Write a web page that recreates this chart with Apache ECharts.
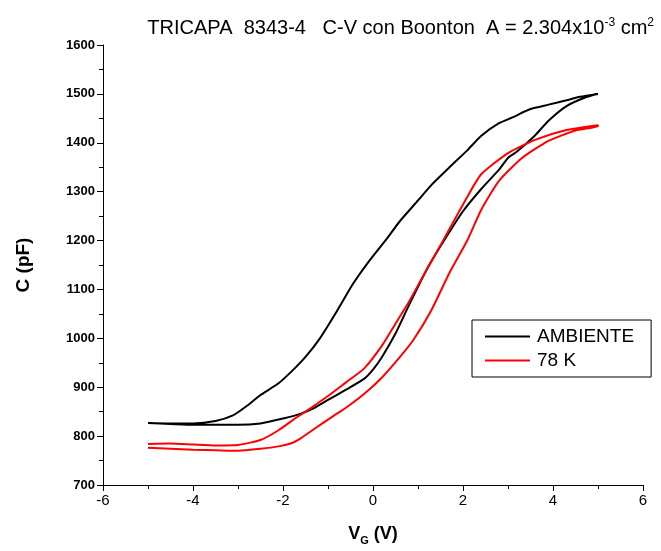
<!DOCTYPE html>
<html>
<head>
<meta charset="utf-8">
<script src="https://cdn.jsdelivr.net/npm/echarts@6/dist/echarts.min.js"></script>
<style>
  html, body { margin: 0; padding: 0; background: #fff; }
  #chart { width: 661px; height: 551px; }
</style>
</head>
<body>
<div id="chart"></div>
<script>
// C-V loops, [V_G (V), C (pF)]
const ambienteUp = [
  [-5, 827], [-4.5, 825], [-4, 823], [-3.5, 823], [-3, 823], [-2.5, 826], [-2, 836],
  [-1.6, 846], [-1.3, 858], [-1, 874], [-0.6, 895], [-0.2, 917], [0, 936], [0.2, 962],
  [0.5, 1010], [0.8, 1068], [1.2, 1142], [1.6, 1203], [2, 1260], [2.4, 1305], [2.8, 1345],
  [3, 1369], [3.2, 1382], [3.6, 1415], [3.9, 1445], [4.3, 1475], [4.7, 1492], [5, 1500]
];
const ambienteDown = [
  [5, 1500], [4.6, 1494], [4.3, 1487], [3.9, 1478], [3.5, 1469], [3.1, 1452], [2.8, 1440],
  [2.4, 1414], [2.1, 1385], [1.7, 1350], [1.3, 1314], [1, 1282], [0.6, 1240], [0.3, 1203],
  [-0.07, 1160], [-0.44, 1112], [-0.8, 1056], [-1.18, 1000], [-1.5, 962], [-1.78, 935],
  [-2.1, 908], [-2.5, 884], [-2.8, 862], [-3.1, 843], [-3.5, 831], [-4, 826], [-4.5, 826], [-5, 827]
];
const k78Up = [
  [-5, 776], [-4.5, 774], [-4, 772], [-3.5, 771], [-3, 770], [-2.5, 774], [-2.1, 779],
  [-1.8, 786], [-1.6, 796], [-1.3, 815], [-0.9, 840], [-0.6, 858], [-0.2, 886], [0.2, 920],
  [0.6, 962], [0.9, 997], [1.3, 1058], [1.7, 1134], [2.1, 1201], [2.4, 1262], [2.8, 1322],
  [3.3, 1368], [3.9, 1404], [4.5, 1425], [5, 1434]
];
const k78Down = [
  [5, 1436], [4.3, 1426], [3.6, 1406], [3, 1379], [2.4, 1335], [2.1, 1290], [1.6, 1207],
  [1.1, 1125], [0.8, 1075], [0.5, 1030], [0.2, 985], [-0.2, 938], [-0.6, 910], [-1, 882],
  [-1.5, 850], [-1.7, 838], [-2.1, 812], [-2.5, 792], [-3, 782], [-3.5, 781], [-4, 783],
  [-4.5, 785], [-5, 784]
];
const seriesNames = ['AMBIENTE', '78 K'];

const font = 'Liberation Sans, Arial, sans-serif';
const chart = echarts.init(document.getElementById('chart'));

chart.setOption({
  animation: false,
  title: {
    text: '{t|TRICAPA  8343-4   C-V con Boonton  A = 2.304x10}{sup|-3}{t| cm}{sup|2}',
    right: 2,
    top: 12,
    textStyle: {
      rich: {
        t: { fontFamily: font, fontSize: 20, fontWeight: 'normal', color: '#000' },
        sup: { fontFamily: font, fontSize: 12, fontWeight: 'normal', color: '#000', verticalAlign: 'top', padding: [0, 0, 10, 0] }
      }
    }
  },
  legend: {
    orient: 'vertical',
    left: 472,
    top: 320,
    data: seriesNames.map(function (n) { return { name: n, icon: 'rect' }; }),
    borderColor: '#000',
    borderWidth: 1,
    borderRadius: 0,
    padding: [7, 17, 7, 13],
    itemWidth: 45,
    itemHeight: 2,
    itemGap: 5,
    textStyle: { fontFamily: font, fontSize: 19, color: '#000', padding: [0, 0, 0, 2] }
  },
  grid: { left: 103, right: 18, top: 45, bottom: 66 },
  xAxis: {
    type: 'value',
    min: -6,
    max: 6,
    interval: 2,
    name: '{v|V}{s|G}{v| (V)}',
    nameLocation: 'middle',
    nameGap: 38,
    nameTextStyle: {
      rich: {
        v: { fontFamily: font, fontSize: 18, fontWeight: 'bold', color: '#000' },
        s: { fontFamily: font, fontSize: 11, fontWeight: 'bold', color: '#000', verticalAlign: 'bottom', padding: [12, 0, 0, 0] }
      }
    },
    axisLine: { onZero: false, lineStyle: { color: '#000', width: 1 } },
    axisTick: { length: 6, lineStyle: { color: '#000' } },
    minorTick: { show: true, splitNumber: 2, length: 4, lineStyle: { color: '#000' } },
    splitLine: { show: false },
    axisLabel: { fontFamily: font, fontSize: 15, color: '#000', margin: 8 }
  },
  yAxis: {
    type: 'value',
    min: 700,
    max: 1600,
    interval: 100,
    name: 'C (pF)',
    nameLocation: 'middle',
    nameGap: 70,
    nameTextStyle: { fontFamily: font, fontSize: 19, fontWeight: 'bold', color: '#000' },
    axisLine: { show: true, onZero: false, lineStyle: { color: '#000', width: 1 } },
    axisTick: { show: true, length: 6, lineStyle: { color: '#000' } },
    minorTick: { show: true, splitNumber: 2, length: 4, lineStyle: { color: '#000' } },
    splitLine: { show: false },
    axisLabel: {
      fontFamily: font, fontSize: 13, fontWeight: 'bold', color: '#000', margin: 8,
      formatter: function (v) { return String(v); }
    }
  },
  series: [
    {
      name: seriesNames[0],
      type: 'line',
      symbol: 'none',
      smooth: 0.2,
      color: '#000',
      lineStyle: { color: '#000', width: 2 },
      data: ambienteUp.concat(ambienteDown.slice(1))
    },
    {
      name: seriesNames[1],
      type: 'line',
      symbol: 'none',
      smooth: 0.2,
      color: '#ff0000',
      lineStyle: { color: '#ff0000', width: 2 },
      data: k78Up.concat(k78Down)
    }
  ]
});
</script>
</body>
</html>
